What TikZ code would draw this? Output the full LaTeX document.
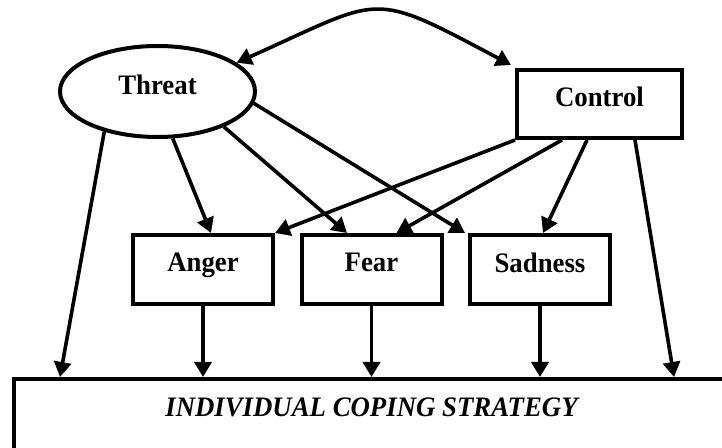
\documentclass[tikz,border=0pt]{standalone}
\usepackage{fontspec}
\setmainfont{Liberation Serif}[FakeStretch=0.95]
\usetikzlibrary{shapes.geometric,arrows.meta,positioning}

\begin{document}
\begin{tikzpicture}[
    box/.style={rectangle, draw, line width=2pt, minimum width=70pt, minimum height=34.5pt, text depth=7pt, font=\fontsize{14.1}{16}\selectfont\bfseries},
    oval/.style={ellipse, draw, line width=2pt, minimum width=97.5pt, minimum height=45.5pt, text depth=7pt, font=\fontsize{14.1}{16}\selectfont\bfseries},
    arrow/.style={-{Triangle[length=7.5pt,width=8.5pt]}, line width=1.8pt},
    biarrow/.style={{Triangle[length=7.5pt,width=8.5pt]}-{Triangle[length=7.5pt,width=8.5pt]}, line width=1.8pt}
]
    \useasboundingbox (0,0) rectangle (361pt,-224pt);

    % Emotions
    \node[box] (anger) at (101.5pt,-134.75pt) {Anger};
    \node[box, right=12.25pt of anger] (fear) {Fear};
    \node[box, right=12.25pt of fear] (sadness) {Sadness};

    % Appraisals
    \node[oval, above=47pt of anger, xshift=-22.75pt] (threat) {Threat};
    \node[box, minimum width=82.5pt, minimum height=34pt, above=46.5pt of sadness, xshift=29.75pt] (control) {Control};

    % Coping strategy (runs off the page)
    \node[box, font=\fontsize{14.1}{16}\selectfont\bfseries\itshape, minimum width=357.5pt, minimum height=36pt, text depth=8pt, below=35.5pt of fear] (coping) {INDIVIDUAL COPING STRATEGY};

    % Threat <-> Control
    \draw[biarrow] (threat.20) .. controls +(74pt,33pt) and +(-71.5pt,38pt) .. ([shift={(-2pt,1.5pt)}]control.north west);

    % Arrows from threat
    \draw[arrow] (threat.217) -- ([xshift=24pt]coping.north west);
    \draw[arrow] (threat.288) -- ([xshift=4pt]anger.north);
    \draw[arrow] (threat.332) -- ([xshift=-12.25pt]fear.north);
    \draw[arrow] (threat.353) -- ([xshift=-1.5pt]sadness.north west);

    % Arrows from control
    \draw[arrow] (control.south west) -- (anger.north east);
    \draw[arrow] ([xshift=-18.75pt]control.south) -- ([xshift=12.5pt]fear.north);
    \draw[arrow] ([xshift=-6.25pt]control.south) -- ([xshift=1.5pt]sadness.north);
    \draw[arrow] ([xshift=17.75pt]control.south) -- ([xshift=331pt]coping.north west);

    % Emotions to coping
    \draw[arrow] (anger.south) -- (anger.south |- coping.north);
    \draw[arrow] (fear.south) -- (fear.south |- coping.north);
    \draw[arrow] (sadness.south) -- (sadness.south |- coping.north);

\end{tikzpicture}
\end{document}
